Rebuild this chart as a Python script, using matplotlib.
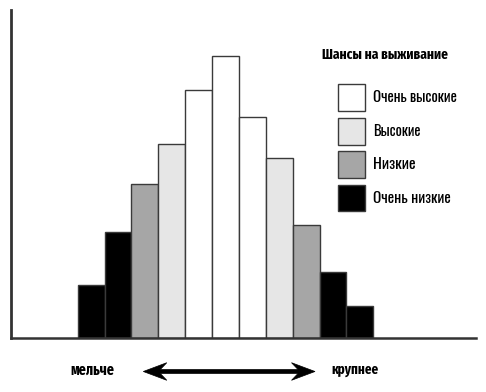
import matplotlib
matplotlib.use("Agg")
import matplotlib.pyplot as plt
from matplotlib.patches import Rectangle, Polygon

# ---- data ----
heights = [53, 106, 154, 194, 248, 282, 221, 180, 113, 66, 32]
groups = [3, 3, 2, 1, 0, 0, 0, 1, 2, 3, 3]  # index into legend categories
categories = ["Очень высокие", "Высокие", "Низкие", "Очень низкие"]
cat_colors = ["#ffffff", "#e6e6e6", "#a6a6a6", "#000000"]
legend_title = "Шансы на выживание"
left_label = "мельче"
right_label = "крупнее"

FAM_LIGHT = ["Oswald", "Fira Sans Extra Condensed", "DejaVu Sans"]
FAM_BOLD = ["Fira Sans Extra Condensed", "Oswald", "DejaVu Sans"]

W, H = 486, 392
fig = plt.figure(figsize=(W / 100, H / 100), dpi=100)
fig.patch.set_facecolor("white")
renderer = fig.canvas.get_renderer()

def fx(x):
    return x / W

def fy(y):
    return 1 - y / H

def fit_text(x, y, s, width_px, fam, weight="normal", size=11):
    t = fig.text(fx(x), fy(y), s, family=fam, weight=weight, fontsize=size,
                 ha="left", va="center", color="black")
    w = t.get_window_extent(renderer).width
    t.set_fontsize(size * width_px / w)
    return t

ax = fig.add_axes([fx(11), fy(338.3), (476 - 11) / W, (338.3 - 10) / H])
xs = list(range(len(heights)))
ax.bar(xs, heights, width=1.0, align="edge",
       color=[cat_colors[g] for g in groups], edgecolor="#3a3a3a", linewidth=1.0)
ax.set_xlim(-2.48, 14.82)
ax.set_ylim(0, 328.3)
for s in ["top", "right"]:
    ax.spines[s].set_visible(False)
ax.spines["left"].set_color("#333333")
ax.spines["left"].set_linewidth(2.0)
ax.spines["bottom"].set_color("#333333")
ax.spines["bottom"].set_linewidth(1.8)
ax.set_xticks([])
ax.set_yticks([])

# legend (manual)
fit_text(322.5, 54.5, legend_title, 126, FAM_BOLD, weight="bold")
label_widths = [85, 48, 43, 78]
for i, (lab, col) in enumerate(zip(categories, cat_colors)):
    top = 84.3 + i * 33.4
    fig.patches.append(Rectangle((fx(338.3), fy(top + 26.8)), 26.8 / W, 26.8 / H,
                                 transform=fig.transFigure, facecolor=col,
                                 edgecolor="#3a3a3a", linewidth=1.0))
    fit_text(373.3, top + 13.6, lab, label_widths[i], FAM_LIGHT, weight="light")

# axis labels and arrow
fit_text(70, 370, left_label, 44, FAM_BOLD, weight="bold")
fit_text(331, 370, right_label, 47, FAM_BOLD, weight="bold")
yc = 371.5
x0, x1 = 143.3, 315.0
hl, hh, notch, sh = 23.5, 8.8, 17.0, 2.0
pts = [(x0, yc), (x0 + hl, yc - hh), (x0 + notch, yc - sh), (x1 - notch, yc - sh),
       (x1 - hl, yc - hh), (x1, yc), (x1 - hl, yc + hh), (x1 - notch, yc + sh),
       (x0 + notch, yc + sh), (x0 + hl, yc + hh)]
fig.patches.append(Polygon([(fx(a), fy(b)) for a, b in pts], closed=True,
                           transform=fig.transFigure, facecolor="black",
                           edgecolor="black", linewidth=0.5))

fig.savefig("out.png", dpi=100)
